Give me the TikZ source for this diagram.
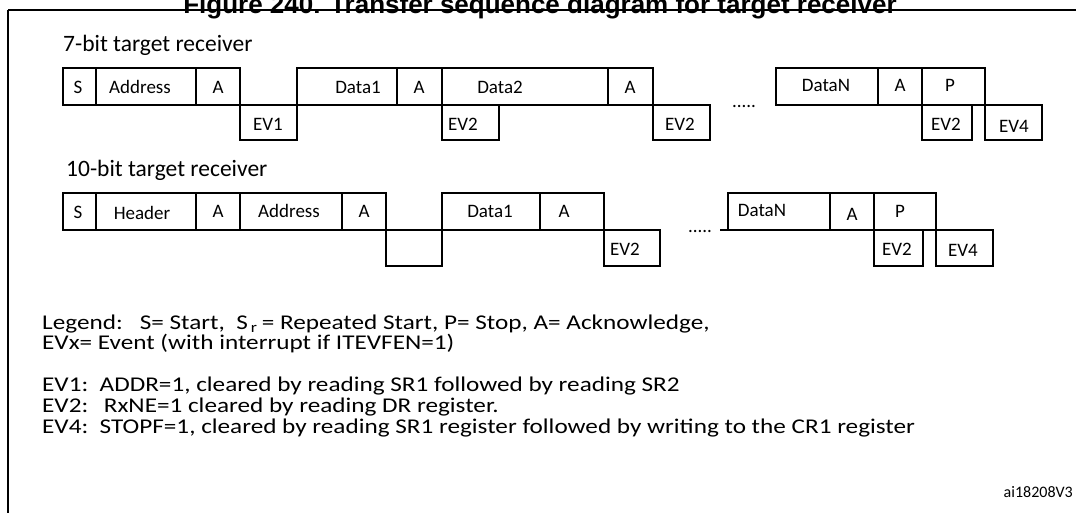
\documentclass[tikz,border=0pt]{standalone}
\usepackage{fontspec}
\setmainfont{Carlito}
\newfontfamily\titlefont{Liberation Sans}
\newcommand{\wideit}[1]{\scalebox{1.2}[1]{#1}}
\begin{document}
\begin{tikzpicture}[x=1pt,y=-1pt,
  ln/.style={line width=1.3pt},
  lbl/.style={font=\fontsize{19}{19}\selectfont,inner sep=0pt},
  big/.style={font=\fontsize{23.5}{23.5}\selectfont,inner sep=0pt,anchor=base west},
  txt/.style={font=\fontsize{21}{21}\selectfont,inner sep=0pt,anchor=base west}]
\useasboundingbox (0,0) rectangle (1076,513);
\node[font=\titlefont\bfseries\fontsize{26}{26}\selectfont,inner sep=0pt,anchor=base] (title) at (540,14) {Figure 240. Transfer sequence diagram for target receiver};
\draw[line width=1.5pt] (8,10) -- (1076,10);
\draw[line width=1.5pt] (8,10) -- (8,513);
% row 1
\node[big] (t1) at (63,52) {7-bit target receiver};
\draw[ln] (63,68) rectangle (240,105) (96,68)--(96,105) (196,68)--(196,105);
\draw[ln] (240,105) rectangle (297,140);
\draw[ln] (297,68) rectangle (653,105) (397,68)--(397,105) (442,68)--(442,105) (608,68)--(608,105);
\draw[ln] (442,105) rectangle (499,140);
\draw[ln] (653,105) rectangle (710,140);
\draw[ln] (776,68) rectangle (985,105) (878,68)--(878,105) (922,68)--(922,105);
\draw[ln] (922,105) rectangle (972,140);
\draw[ln] (985,105) rectangle (1042,140);
\node[lbl] (s1) at (78,87) {S};
\node[lbl] (ad1) at (140,87) {Address};
\node[lbl] (a11) at (218,87) {A};
\node[lbl] (ev1) at (268,124) {EV1};
\node[lbl] (d11) at (358,87) {Data1};
\node[lbl] (a12) at (419,87) {A};
\node[lbl] (d12) at (500,87) {Data2};
\node[lbl] (a13) at (630,87) {A};
\node[lbl] (ev21) at (463,124) {EV2};
\node[lbl] (ev22) at (680,124) {EV2};
\node[lbl] (dot1) at (744,106) {.....};
\node[lbl] (dn1) at (826,85) {DataN};
\node[lbl] (a14) at (900,85) {A};
\node[lbl] (p1) at (950,85) {P};
\node[lbl] (ev23) at (946,124) {EV2};
\node[lbl] (ev41) at (1014,126) {EV4};
% row 2
\node[big] (t2) at (66,177) {10-bit target receiver};
\draw[ln] (63,193) rectangle (386,230) (96,193)--(96,230) (196,193)--(196,230) (240,193)--(240,230) (342,193)--(342,230);
\draw[ln] (386,230) rectangle (442,266);
\draw[ln] (442,193) rectangle (604,230) (540,193)--(540,230);
\draw[ln] (604,230) rectangle (660,266);
\draw[ln] (720,230) -- (728,230);
\draw[ln] (728,193) rectangle (936,230) (830,193)--(830,230) (874,193)--(874,230);
\draw[ln] (874,230) rectangle (923,266);
\draw[ln] (936,230) rectangle (993,266);
\node[lbl] (s2) at (78,212) {S};
\node[lbl] (h2) at (142,213) {Header};
\node[lbl] (a21) at (218,211) {A};
\node[lbl] (ad2) at (289,211) {Address};
\node[lbl] (a22) at (364,211) {A};
\node[lbl] (d21) at (490,211) {Data1};
\node[lbl] (a23) at (564,211) {A};
\node[lbl] (ev24) at (625,249) {EV2};
\node[lbl] (dot2) at (700,231) {.....};
\node[lbl] (dn2) at (762,210) {DataN};
\node[lbl] (a24) at (852,214) {A};
\node[lbl] (p2) at (900,211) {P};
\node[lbl] (ev25) at (897,249) {EV2};
\node[lbl] (ev42) at (963,250) {EV4};
% legend
\node[txt] (lg) at (42,329) {\wideit{Legend:\ \ \ S= Start,\ \ S$_{\,\mathrm{r}}$\,= Repeated Start, P= Stop, A= Acknowledge,}};
\node[txt] (evx) at (42,349) {\wideit{EVx= Event (with interrupt if ITEVFEN=1)}};
\node[txt] (e1) at (42,391) {\wideit{EV1:\ \ ADDR=1, cleared by reading SR1 followed by reading SR2}};
\node[txt] (e2) at (42,412) {\wideit{EV2:\ \ \,RxNE=1 cleared by reading DR register.}};
\node[txt] (e4) at (42,433) {\wideit{EV4:\ \ STOPF=1, cleared by reading SR1 register followed by writing to the CR1 register}};
\node[font=\fontsize{16}{16}\selectfont,inner sep=0pt,anchor=base east] (id) at (1073,497) {ai18208V3};
\end{tikzpicture}
\end{document}
